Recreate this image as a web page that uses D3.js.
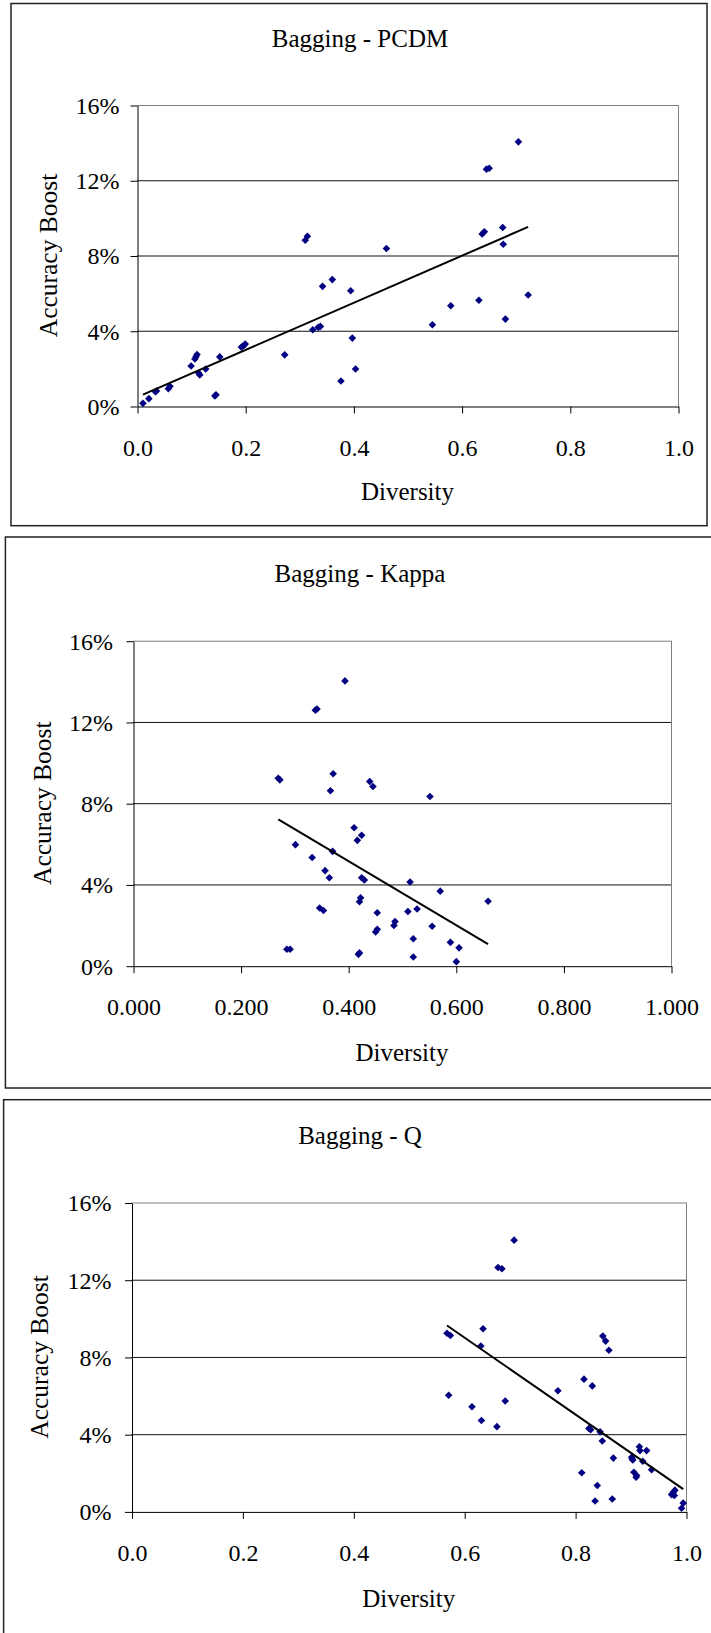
<!DOCTYPE html>
<html>
<head>
<meta charset="utf-8">
<script src="https://cdn.jsdelivr.net/npm/d3@7"></script>
<style>
  body { margin: 0; background: #fff; }
  svg text { font-family: "Liberation Serif", "Times New Roman", serif; fill: #000; }
</style>
</head>
<body>
<div id="container"></div>
<script>
let w = 711;
let h = 1633;

// shared tick values
let boostTicks = [0, 4, 8, 12, 16];
let diversityTicks = [0, 0.2, 0.4, 0.6, 0.8, 1.0];

// Bagging - PCDM : diversity, accuracy boost (%)
let pcdmDiversity = [0.011, 0.022, 0.034, 0.036, 0.058, 0.061, 0.100, 0.107, 0.109, 0.111, 0.114, 0.116,
  0.127, 0.144, 0.146, 0.153, 0.193, 0.197, 0.200, 0.273, 0.311, 0.315, 0.325, 0.335, 0.339, 0.343,
  0.361, 0.377, 0.395, 0.398, 0.404, 0.461, 0.546, 0.580, 0.632, 0.638, 0.642, 0.646, 0.651, 0.676,
  0.677, 0.681, 0.705, 0.723];
let pcdmBoost = [0.14, 0.39, 0.76, 0.80, 0.92, 1.05, 2.13, 2.50, 2.62, 2.74, 1.75, 1.65,
  1.97, 0.53, 0.60, 2.61, 3.13, 3.20, 3.29, 2.72, 8.81, 9.02, 4.05, 4.18, 4.23, 6.36,
  6.72, 1.33, 6.13, 3.61, 1.97, 8.37, 4.32, 5.33, 5.62, 9.14, 9.26, 12.59, 12.64, 9.49,
  8.60, 4.62, 14.04, 5.90];

// Bagging - Kappa
let kappaDiversity = [0.394, 0.339, 0.342, 0.270, 0.273, 0.372, 0.367, 0.440, 0.446, 0.552, 0.411,
  0.417, 0.425, 0.302, 0.371, 0.333, 0.357, 0.365, 0.425, 0.430, 0.515, 0.571, 0.660, 0.423,
  0.421, 0.347, 0.354, 0.454, 0.511, 0.528, 0.487, 0.485, 0.451, 0.454, 0.556, 0.521, 0.590,
  0.606, 0.286, 0.292, 0.419, 0.421, 0.521, 0.601];
let kappaBoost = [14.02, 12.58, 12.64, 9.23, 9.15, 9.45, 8.61, 9.07, 8.82, 8.33, 6.79,
  6.17, 6.42, 5.96, 5.63, 5.33, 4.68, 4.33, 4.33, 4.22, 4.12, 3.67, 3.17, 3.34,
  3.15, 2.84, 2.72, 2.61, 2.67, 2.79, 2.17, 1.98, 1.66, 1.79, 1.94, 1.33, 1.15,
  0.88, 0.81, 0.81, 0.56, 0.63, 0.43, 0.20];

// Bagging - Q
let qDiversity = [0.690, 0.661, 0.668, 0.569, 0.575, 0.634, 0.630, 0.850, 0.855, 0.861, 0.816,
  0.831, 0.769, 0.572, 0.674, 0.614, 0.631, 0.659, 0.825, 0.828, 0.845, 0.849, 0.916, 0.917,
  0.929, 0.869, 0.902, 0.903, 0.904, 0.922, 0.938, 0.906, 0.910, 0.911, 0.812, 0.840, 0.836,
  0.867, 0.974, 0.977, 0.980, 0.979, 0.995, 0.992];
let qBoost = [14.05, 12.63, 12.57, 9.23, 9.11, 9.46, 8.57, 9.08, 8.82, 8.35, 6.85,
  6.50, 6.25, 6.02, 5.72, 5.42, 4.71, 4.39, 4.30, 4.23, 4.12, 3.65, 3.35, 3.15,
  3.15, 2.76, 2.80, 2.72, 2.66, 2.60, 2.16, 2.03, 1.77, 1.86, 2.00, 1.34, 0.54,
  0.64, 0.87, 0.99, 1.10, 0.82, 0.43, 0.16];

let viz = d3.select("#container")
  .append("svg")
    .attr("width", w)
    .attr("height", h)
;

function drawPanel(p){
  let g = viz.append("g").classed("panel", true);

  // frame round the whole chart
  g.append("rect")
    .attr("x", p.frame[0]).attr("y", p.frame[1])
    .attr("width", p.frame[2] - p.frame[0]).attr("height", p.frame[3] - p.frame[1])
    .attr("fill", "none").attr("stroke", "#222").attr("stroke-width", 1.5);

  g.append("text")
    .attr("x", 360).attr("y", p.titleY)
    .attr("text-anchor", "middle")
    .attr("font-size", 25)
    .text(p.title);

  let xScale = d3.scaleLinear().domain([0, 1]).range([p.left, p.right]);
  let yScale = d3.scaleLinear().domain([0, 16]).range([p.bottom, p.top]);

  // gridlines
  g.append("g").selectAll("line").data(boostTicks.filter(d => d > 0)).enter()
    .append("line")
      .attr("x1", p.left).attr("x2", p.right)
      .attr("y1", d => yScale(d) + 0.5).attr("y2", d => yScale(d) + 0.5)
      .attr("stroke", d => d == 16 ? "#808080" : "#111")
      .attr("stroke-width", 1);
  g.append("line")
    .attr("x1", p.right + 0.5).attr("x2", p.right + 0.5)
    .attr("y1", p.top).attr("y2", p.bottom)
    .attr("stroke", "#808080");

  let yAxis = d3.axisLeft(yScale).tickValues(boostTicks).tickFormat(d => d + "%")
    .tickSize(7).tickSizeOuter(0).tickPadding(p.yPad);
  let yAxisGroup = g.append("g").attr("transform", "translate(" + (p.left + 0.5) + ",0.5)").call(yAxis);
  yAxisGroup.selectAll("text").attr("font-size", 24).attr("dy", "0.33em")
    .style("font-family", "'Liberation Serif', 'Times New Roman', serif");
  yAxisGroup.selectAll("line, path").attr("stroke", "#000");

  let xAxis = d3.axisBottom(xScale).tickValues(diversityTicks).tickFormat(d3.format(p.fmt))
    .tickSize(7).tickSizeOuter(0).tickPadding(25);
  let xAxisGroup = g.append("g").attr("transform", "translate(0.5," + (p.bottom + 0.5) + ")").call(xAxis);
  xAxisGroup.selectAll("text").attr("font-size", 24)
    .style("font-family", "'Liberation Serif', 'Times New Roman', serif");
  xAxisGroup.selectAll("line, path").attr("stroke", "#000");

  g.append("text")
    .attr("x", (p.left + p.right) / 2).attr("y", p.bottom + p.xTitleGap)
    .attr("text-anchor", "middle").attr("font-size", 25)
    .text("Diversity");
  g.append("text")
    .attr("transform", "translate(" + (p.left - p.yTitleGap) + "," + ((p.top + p.bottom) / 2) + ") rotate(-90)")
    .attr("text-anchor", "middle").attr("font-size", 25.5)
    .text("Accuracy Boost");

  let points = p.xs.map((d, i) => ({x: d, y: p.ys[i]}));

  // linear trend (least squares) over the range of the data
  let mx = d3.mean(points, d => d.x);
  let my = d3.mean(points, d => d.y);
  let slope = d3.sum(points, d => (d.x - mx) * (d.y - my)) / d3.sum(points, d => (d.x - mx) * (d.x - mx));
  let x0 = d3.min(points, d => d.x);
  let x1 = d3.max(points, d => d.x);
  let trend = [x0, x1].map(x => ({x: x, y: my + slope * (x - mx)}));

  let diamond = "M0,-3.8L3.8,0L0,3.8L-3.8,0Z";
  g.append("g").selectAll("path").data(points).enter()
    .append("path")
      .attr("d", diamond)
      .attr("transform", d => "translate(" + xScale(d.x) + "," + yScale(d.y) + ")")
      .attr("fill", "#000080");

  g.append("path")
    .datum(trend)
    .attr("d", d3.line().x(d => xScale(d.x)).y(d => yScale(d.y)))
    .attr("fill", "none").attr("stroke", "#000").attr("stroke-width", 2);
}

drawPanel({
  title: "Bagging - PCDM", xs: pcdmDiversity, ys: pcdmBoost, fmt: ".1f",
  frame: [11, 3.5, 707, 525.7], titleY: 46.7,
  left: 137, right: 678, top: 105, bottom: 406,
  yPad: 11, xTitleGap: 94, yTitleGap: 80
});
drawPanel({
  title: "Bagging - Kappa", xs: kappaDiversity, ys: kappaBoost, fmt: ".3f",
  frame: [5.4, 537, 720, 1088], titleY: 581.8,
  left: 133, right: 671, top: 640.7, bottom: 965.7,
  yPad: 13.5, xTitleGap: 95, yTitleGap: 82
});
drawPanel({
  title: "Bagging - Q", xs: qDiversity, ys: qBoost, fmt: ".1f",
  frame: [3.6, 1099.7, 720, 1645], titleY: 1143.7,
  left: 131.5, right: 686, top: 1202.5, bottom: 1511.4,
  yPad: 13.5, xTitleGap: 96, yTitleGap: 84
});
</script>
</body>
</html>
